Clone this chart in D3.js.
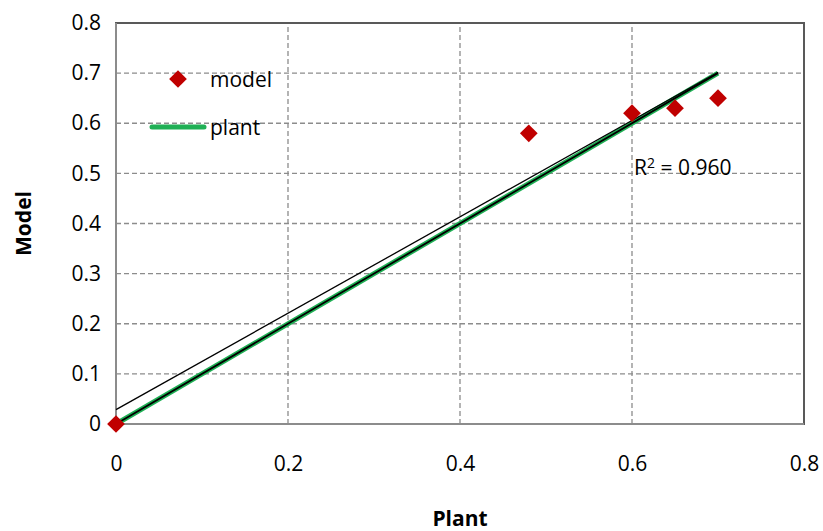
<!DOCTYPE html>
<html lang="en">
<head>
<meta charset="UTF-8">
<title>Model vs Plant</title>
<script src="https://d3js.org/d3.v7.min.js"></script>
<style>
  body { margin: 0; background: #fff; }
  text { font-family: "Open Sans", "Liberation Sans", sans-serif; fill: #000; }
</style>
</head>
<body>
<div id="chart"></div>
<script>
// data
const modelX = [0, 0.48, 0.6, 0.65, 0.7];
const modelY = [0, 0.58, 0.62, 0.63, 0.65];
const plantX = [0, 0.7];
const plantY = [0, 0.7];
const xTicks = [0, 0.2, 0.4, 0.6, 0.8];
const yTicks = [0, 0.1, 0.2, 0.3, 0.4, 0.5, 0.6, 0.7, 0.8];

const width = 823, height = 531;
const margin = {left: 116, top: 23, right: 19, bottom: 107};
const fs = "21px";

const svg = d3.select("#chart").append("svg")
    .attr("width", width)
    .attr("height", height);

const x = d3.scaleLinear().domain([0, 0.8]).range([margin.left, width - margin.right]);
const y = d3.scaleLinear().domain([0, 0.8]).range([height - margin.bottom, margin.top]);

// grid
const grid = svg.append("g").attr("stroke", "#8c8c8c").attr("stroke-width", 1.3)
    .attr("stroke-dasharray", "5,3");
grid.selectAll(".hg").data(yTicks.slice(1, -1)).join("line")
    .attr("x1", x(0)).attr("x2", x(0.8))
    .attr("y1", d => y(d)).attr("y2", d => y(d));
grid.selectAll(".vg").data(xTicks.slice(1, -1)).join("line")
    .attr("y1", y(0)).attr("y2", y(0.8))
    .attr("x1", d => x(d)).attr("x2", d => x(d));

// axes
svg.append("g")
    .attr("transform", `translate(0,${y(0)})`)
    .call(d3.axisBottom(x).tickValues(xTicks).tickFormat(d3.format("")).tickSize(0).tickPadding(32))
    .call(g => g.select(".domain").remove())
    .selectAll("text").style("font-size", fs);

svg.append("g")
    .attr("transform", `translate(${x(0)},0)`)
    .call(d3.axisLeft(y).tickValues(yTicks).tickFormat(d3.format("")).tickSize(0).tickPadding(15))
    .call(g => g.select(".domain").remove())
    .selectAll("text").style("font-size", fs);

// plot frame
svg.append("rect")
    .attr("x", x(0)).attr("y", y(0.8))
    .attr("width", x(0.8) - x(0)).attr("height", y(0) - y(0.8))
    .attr("fill", "none").attr("stroke", "#595959").attr("stroke-width", 2);
svg.append("line")
    .attr("x1", x(0)).attr("x2", x(0.8)).attr("y1", y(0)).attr("y2", y(0))
    .attr("stroke", "#8c8c8c").attr("stroke-width", 2);
svg.append("line")
    .attr("x1", x(0)).attr("x2", x(0)).attr("y1", y(0)).attr("y2", y(0.8))
    .attr("stroke", "#8c8c8c").attr("stroke-width", 2);

// linear trendline of model
const mx = d3.mean(modelX), my = d3.mean(modelY);
const sxy = d3.sum(modelX, (v, i) => (v - mx) * (modelY[i] - my));
const sxx = d3.sum(modelX, v => (v - mx) ** 2);
const syy = d3.sum(modelY, v => (v - my) ** 2);
const slope = sxy / sxx, icpt = my - slope * mx;
const r2 = sxy * sxy / (sxx * syy);

const line = d3.line().x(d => x(d[0])).y(d => y(d[1]));
const plantPts = plantX.map((v, i) => [v, plantY[i]]);

svg.append("path").datum(plantPts).attr("d", line)
    .attr("fill", "none").attr("stroke", "#1fb055").attr("stroke-width", 5);
svg.append("path").datum(plantPts).attr("d", line)
    .attr("fill", "none").attr("stroke", "#000").attr("stroke-width", 1.8);

const trendX = d3.extent(modelX);
svg.append("path").datum(trendX.map(v => [v, icpt + slope * v])).attr("d", line)
    .attr("fill", "none").attr("stroke", "#000").attr("stroke-width", 1.3);

// model points
const diamond = d3.symbol().type(d3.symbolDiamond2).size(200);
svg.selectAll(".pt").data(modelX.map((v, i) => [v, modelY[i]])).join("path")
    .attr("d", diamond)
    .attr("transform", d => `translate(${x(d[0])},${y(d[1])})`)
    .attr("fill", "#c00000");

const r2Text = svg.append("text")
    .attr("x", 634).attr("y", 175)
    .style("font-size", fs);
r2Text.append("tspan").text("R");
r2Text.append("tspan").attr("dy", -7).style("font-size", "14px").text("2");
r2Text.append("tspan").attr("dy", 7).text(` = ${r2.toFixed(3)}`);

// legend
svg.append("path").attr("d", diamond)
    .attr("transform", "translate(178,79)").attr("fill", "#c00000");
svg.append("text").attr("x", 210).attr("y", 87).style("font-size", fs).text("model");
svg.append("line").attr("x1", 152).attr("x2", 204).attr("y1", 127).attr("y2", 127)
    .attr("stroke", "#1fb055").attr("stroke-width", 5).attr("stroke-linecap", "round");
svg.append("text").attr("x", 210).attr("y", 135).style("font-size", fs).text("plant");

// axis titles
svg.append("text")
    .attr("x", x(0.4)).attr("y", 526)
    .attr("text-anchor", "middle")
    .style("font-size", "21px").style("font-weight", "bold")
    .text("Plant");
svg.append("text")
    .attr("transform", `translate(31,${(y(0) + y(0.8)) / 2}) rotate(-90)`)
    .attr("text-anchor", "middle")
    .style("font-size", "21px").style("font-weight", "bold")
    .text("Model");
</script>
</body>
</html>
